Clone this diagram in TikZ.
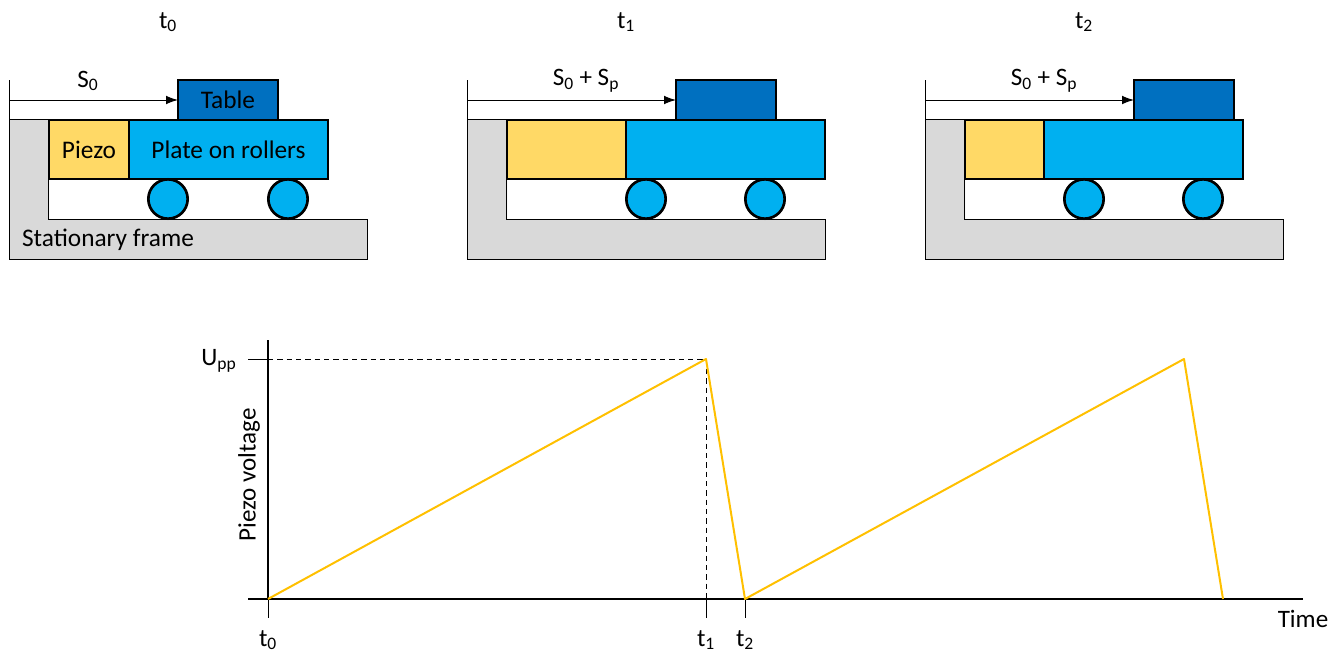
\documentclass[tikz,border=0pt]{standalone}
\usepackage{fontspec}
\setmainfont{Carlito}
\usetikzlibrary{arrows.meta}
\definecolor{tablecol}{HTML}{0070C0}
\definecolor{platecol}{HTML}{00B0F0}
\definecolor{piezocol}{HTML}{FFD966}
\definecolor{framecol}{HTML}{D9D9D9}
\definecolor{rampcol}{HTML}{FFC000}
\tikzset{
  block/.style={draw=black,line width=2.2pt,inner sep=0pt,outer sep=0pt,anchor=north west,minimum height=44.25pt},
  roller/.style={draw=black,line width=2pt,fill=platecol,circle,inner sep=0pt,outer sep=0pt,minimum size=29.5pt},
  thinline/.style={line width=0.75pt},
  axisline/.style={line width=1.5pt},
  lbl/.style={font=\fontsize{18.8}{22}\selectfont,inner sep=0pt},
  blocktext/.style={font=\fontsize{19}{23}\selectfont,inner sep=0pt},
}
\begin{document}
\begin{tikzpicture}[x=0.75pt,y=-0.75pt,>={Latex[length=9pt,width=6.5pt]}]
  \useasboundingbox (0,0) rectangle (1340,653);
  % mecanismo en los tres instantes
  \foreach \n/\ox/\pw/\tbx/\rl/\rr/\dx/\tm/\dist in {0/9/80/169/159/279/79/t\textsubscript{0}/S\textsubscript{0},
      1/467/119/209/179/298/119/t\textsubscript{1}/S\textsubscript{0} + S\textsubscript{p},
      2/925/79/209/159/278/119/t\textsubscript{2}/S\textsubscript{0} + S\textsubscript{p}} {
    \begin{scope}[shift={(\ox,0)}]
      \fill[framecol] (0,119.5) -- (40,119.5) -- (40,219.5) -- (358.5,219.5) -- (358.5,259.5) -- (0,259.5) -- cycle;
      \draw[thinline] (0,80) -- (0,259.5) -- (358.5,259.5) -- (358.5,219.5) -- (39.5,219.5) -- (39.5,119.5) -- (0,119.5);
      \node[block,fill=piezocol,minimum width={\pw*0.75pt}] (piezo\n) at (40,120) {};
      \node[block,fill=platecol,minimum width=149.25pt] (plate\n) at (40+\pw,120) {};
      \node[block,fill=tablecol,minimum width=75pt,minimum height=30pt] (table\n) at (\tbx,80) {};
      \node[roller] (rollerl\n) at (\rl,199) {};
      \node[roller] (rollerr\n) at (\rr,199) {};
      \coordinate (start\n) at (0,100);
      \draw[thinline,->] (start\n) -- (start\n -| table\n.west);
      \node[lbl] (dist\n) at (\dx,81) {\dist};
      \node[lbl] (time\n) at (159,22) {\tm};
    \end{scope}
  }
  \node[blocktext] (piezotext) at (piezo0) {Piezo};
  \node[blocktext] (platetext) at (plate0) {Plate on rollers};
  \node[blocktext] (tabletext) at (table0) {Table};
  \node[blocktext] (frametext) at (108,240) {Stationary frame};
  % grafica de la tension
  \coordinate (orig) at (268,599);
  \coordinate (ytop) at (268,340);
  \coordinate (xend) at (1303,599);
  \coordinate (xstart) at (248,599);
  \coordinate (uppl) at (248,359);
  \coordinate (uppa) at (268,359);
  \coordinate (peaka) at (706,359);
  \coordinate (basea) at (706,599);
  \coordinate (lowa) at (745,599);
  \coordinate (peakb) at (1184,359);
  \coordinate (lowb) at (1223,599);
  \coordinate (tickz) at (268,618);
  \coordinate (ticka) at (706,618);
  \coordinate (tickb) at (745,618);
  \draw[thinline] (uppl) -- (uppa);
  \draw[thinline,dash pattern=on 4pt off 3pt] (uppa) -- (peaka) -- (basea);
  \draw[thinline] (orig) -- (tickz);
  \draw[thinline] (basea) -- (ticka);
  \draw[thinline] (lowa) -- (tickb);
  \draw[axisline] (ytop) -- (orig);
  \draw[axisline] (xstart) -- (xend);
  \draw[rampcol,line width=1.5pt,line join=round] (orig) -- (peaka) -- (lowa) -- (peakb) -- (lowb);
  \node[lbl] (upplabel) at (219,361) {U\textsubscript{pp}};
  \node[lbl,rotate=90] (ylabel) at (249,475) {Piezo voltage};
  \node[lbl] (xlabel) at (1303,619) {Time};
  \node[lbl] (tzero) at (268,640) {t\textsubscript{0}};
  \node[lbl] (tone) at (706,640) {t\textsubscript{1}};
  \node[lbl] (ttwo) at (745,640) {t\textsubscript{2}};
\end{tikzpicture}
\end{document}
